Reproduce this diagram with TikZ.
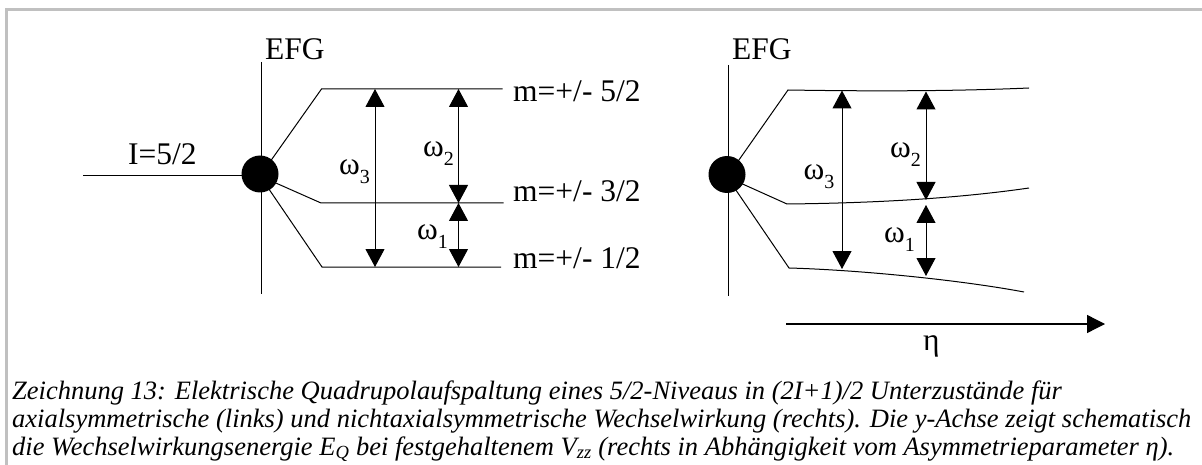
\documentclass[tikz,border=0pt]{standalone}
\usepackage{fontspec}
\setmainfont{Liberation Serif}
\usetikzlibrary{arrows.meta}
\definecolor{framegray}{HTML}{C0C0C0}
\begin{document}
\begin{tikzpicture}[x=1pt,y=-1pt,
  lab/.style={font=\fontsize{31.5}{36}\selectfont, inner sep=0pt, anchor=base west},
  captxt/.style={font=\fontsize{26.5}{28}\selectfont\itshape, inner sep=0pt, anchor=base west},
  ln/.style={line width=1pt},
  dbl/.style={line width=1pt, {Triangle[length=18pt,width=19pt]}-{Triangle[length=18pt,width=19pt]}},
  dotn/.style={circle, fill=black, minimum size=37pt, inner sep=0pt},
]
\newcommand{\om}[1]{ω\raisebox{-9pt}{\fontsize{20}{20}\selectfont #1}}
\useasboundingbox (0,0) rectangle (1202,465);
% frame
\coordinate (fBL) at (6.5,465); \coordinate (fTL) at (6.5,9.5); \coordinate (fTR) at (1202,9.5);
\draw[line width=3pt, framegray] (fBL) -- (fTL) -- (fTR);

% ---------- left diagram ----------
\coordinate (vLt) at (261,62); \coordinate (vLb) at (261,294);
\draw[ln] (vLt) -- (vLb);
\node[lab] (efgL) at (265,60) {EFG};
\coordinate (cL) at (260,176);
\coordinate (iL) at (83,176);
\coordinate (k5L) at (321.5,89); \coordinate (e5L) at (502.5,89);
\coordinate (k3L) at (321,203); \coordinate (e3L) at (503.5,203);
\coordinate (k1L) at (322,267); \coordinate (e1L) at (501,267);
\draw[ln] (iL) -- (cL);
\draw[ln] (cL) -- (k5L) -- (e5L);
\draw[ln] (cL) -- (k3L) -- (e3L);
\draw[ln] (cL) -- (k1L) -- (e1L);
\node[dotn] (dotL) at (260,174) {};
\node[lab] (iLab) at (128,165) {I=5/2};
\node[lab] (m5) at (513,102) {m=+/- 5/2};
\node[lab] (m3) at (513,202) {m=+/- 3/2};
\node[lab] (m1) at (513,269) {m=+/- 1/2};
\coordinate (a3Lt) at (375,89); \coordinate (a3Lb) at (375,267);
\coordinate (a2Lt) at (458.5,89); \coordinate (a2Lb) at (458.5,203);
\coordinate (a1Lt) at (458.5,203); \coordinate (a1Lb) at (458.5,267);
\draw[dbl] (a3Lt) -- (a3Lb);
\draw[dbl] (a2Lt) -- (a2Lb);
\draw[dbl] (a1Lt) -- (a1Lb);
\node[lab] (w3L) at (339,175) {\om{3}};
\node[lab] (w2L) at (423,157) {\om{2}};
\node[lab] (w1L) at (417,240) {\om{1}};

% ---------- right diagram ----------
\coordinate (vRt) at (728,65); \coordinate (vRb) at (728,296);
\draw[ln] (vRt) -- (vRb);
\node[lab] (efgR) at (732,60) {EFG};
\coordinate (cR) at (727,177);
\coordinate (k5R) at (788,90); \coordinate (e5R) at (1029,88);
\coordinate (k3R) at (787,204); \coordinate (e3R) at (1029,188);
\coordinate (k1R) at (789,268); \coordinate (e1R) at (1024,292);
\draw[ln] (cR) -- (k5R) .. controls (880,91.5) and (960,91) .. (e5R);
\draw[ln] (cR) -- (k3R) .. controls (880,203) and (960,198) .. (e3R);
\draw[ln] (cR) -- (k1R) .. controls (860,270) and (960,280) .. (e1R);
\node[dotn] (dotR) at (727,174.5) {};
\coordinate (a3Rt) at (842,90.5); \coordinate (a3Rb) at (842,269);
\coordinate (a2Rt) at (926,91.5); \coordinate (a2Rb) at (926,200);
\coordinate (a1Rt) at (926,205); \coordinate (a1Rb) at (926,276);
\draw[dbl] (a3Rt) -- (a3Rb);
\draw[dbl] (a2Rt) -- (a2Rb);
\draw[dbl] (a1Rt) -- (a1Rb);
\node[lab] (w3R) at (803.5,180) {\om{3}};
\node[lab] (w2R) at (890,158) {\om{2}};
\node[lab] (w1R) at (884,243) {\om{1}};

% eta axis
\coordinate (etaS) at (786,324); \coordinate (etaE) at (1105,324);
\draw[line width=1.3pt, -{Triangle[length=18pt,width=18pt]}] (etaS) -- (etaE);
\node[lab] (etaLab) at (923,350) {η};

% caption
\node[captxt] (c1) at (12,399) {Zeichnung 13: Elektrische Quadrupolaufspaltung eines 5/2-Niveaus in (2I+1)/2 Unterzustände für};
\node[captxt] (c2) at (12,427) {axialsymmetrische (links) und nichtaxialsymmetrische Wechselwirkung (rechts). Die y-Achse zeigt schematisch};
\node[captxt] (c3) at (12,455) {die Wechselwirkungsenergie E\textsubscript{Q} bei festgehaltenem V\textsubscript{zz} (rechts in Abhängigkeit vom Asymmetrieparameter η).};
\end{tikzpicture}
\end{document}
